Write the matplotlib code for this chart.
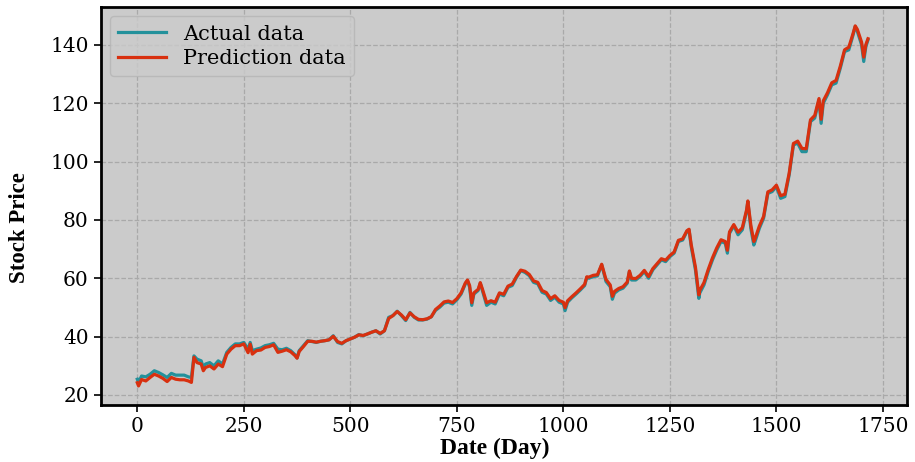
import numpy as np
import matplotlib
matplotlib.use("Agg")
import matplotlib.pyplot as plt

days = [0, 3, 10, 20, 30, 40, 50, 60, 70, 80, 90, 100, 110, 120, 127,
        133, 140, 150, 155, 160, 170, 180, 190, 200, 210, 220, 230, 240, 250, 260,
        265, 270, 280, 290, 300, 310, 320, 330, 340, 350, 360, 370, 375, 380, 390,
        400, 410, 420, 430, 440, 450, 460, 470, 480, 490, 500, 510, 520, 530, 540,
        550, 560, 570, 580, 590, 600, 610, 620, 630, 640, 650, 660, 670, 680, 690,
        700, 710, 720, 730, 740, 750, 760, 770, 775, 780, 785, 790, 800, 805, 810,
        820, 830, 840, 850, 860, 870, 880, 890, 900, 910, 920, 930, 940, 950, 960,
        970, 980, 990, 1000, 1004, 1010, 1020, 1030, 1040, 1050, 1055, 1060, 1070, 1080, 1090,
        1100, 1110, 1115, 1120, 1130, 1140, 1150, 1155, 1160, 1170, 1180, 1190, 1200, 1210, 1220,
        1230, 1240, 1250, 1260, 1270, 1280, 1290, 1295, 1300, 1310, 1318, 1320, 1330, 1340, 1350,
        1360, 1370, 1380, 1385, 1390, 1400, 1410, 1420, 1430, 1433, 1440, 1447, 1450, 1460, 1470,
        1480, 1490, 1500, 1510, 1520, 1530, 1540, 1550, 1560, 1570, 1580, 1590, 1600, 1605, 1610,
        1620, 1630, 1640, 1650, 1660, 1670, 1680, 1685, 1690, 1700, 1705, 1710, 1715]

actual = [25.4, 24.3, 26.5, 26.2, 27.1, 28.3, 27.7, 26.9, 26.0, 27.4, 26.8, 26.8, 26.8, 26.2, 26.0,
          33.4, 32.3, 31.7, 29.4, 30.6, 31.1, 30.0, 31.7, 30.6, 34.6, 36.3, 37.5, 37.5, 38.0, 35.7,
          38.0, 35.2, 35.7, 36.1, 36.9, 37.2, 37.7, 35.7, 35.5, 36.0, 35.2, 33.8, 32.7, 35.2, 36.9,
          38.6, 38.3, 38.0, 38.4, 38.6, 38.9, 40.3, 38.0, 37.5, 38.6, 39.2, 39.8, 40.7, 40.3, 40.9,
          41.5, 42.0, 40.9, 42.0, 46.6, 47.2, 48.7, 47.2, 45.5, 48.3, 46.6, 45.7, 45.7, 46.0, 46.8,
          49.0, 50.1, 51.5, 51.8, 51.2, 52.6, 54.6, 58.1, 59.2, 56.9, 50.7, 54.6, 55.8, 58.3, 55.8,
          50.7, 51.8, 51.2, 54.6, 54.0, 56.9, 57.5, 60.3, 62.6, 62.0, 60.9, 58.6, 58.1, 55.2, 54.6,
          52.4, 53.5, 51.8, 51.2, 48.9, 51.8, 53.3, 54.6, 56.0, 57.5, 60.3, 60.0, 60.6, 60.8, 64.6,
          58.9, 57.1, 52.8, 54.9, 56.0, 56.6, 58.3, 62.3, 59.4, 59.4, 60.6, 62.3, 60.0, 62.9, 64.6,
          66.3, 65.7, 67.4, 68.6, 72.6, 73.1, 76.0, 76.6, 70.9, 62.9, 53.1, 54.9, 57.7, 62.3, 66.3,
          69.7, 72.6, 72.0, 68.6, 75.4, 78.0, 74.9, 76.6, 82.9, 86.3, 77.1, 71.4, 72.6, 77.1, 80.6,
          89.1, 89.7, 91.4, 87.4, 88.0, 95.4, 105.7, 106.3, 103.4, 103.4, 113.7, 114.9, 121.1, 113.1, 120.0,
          122.9, 126.3, 126.9, 132.0, 137.7, 138.3, 143.4, 146.3, 144.6, 140.0, 134.3, 139.4, 141.7]

prediction = [24.2, 23.1, 25.3, 24.8, 26.0, 27.1, 26.5, 25.7, 24.6, 26.0, 25.4, 25.2, 25.2, 24.8, 24.3,
              32.9, 31.1, 30.6, 28.3, 29.4, 30.0, 28.9, 30.6, 29.7, 34.0, 35.7, 36.9, 36.9, 37.5, 34.5,
              37.4, 34.0, 35.2, 35.4, 36.3, 36.6, 37.2, 34.6, 35.0, 35.5, 34.8, 33.5, 32.6, 34.9, 36.6,
              38.4, 38.4, 38.1, 38.4, 38.6, 38.9, 40.1, 38.3, 37.7, 38.6, 39.2, 39.8, 40.6, 40.4, 40.9,
              41.5, 42.0, 41.1, 42.0, 46.2, 47.2, 48.6, 47.4, 45.8, 48.1, 46.8, 45.9, 45.8, 46.1, 46.8,
              49.3, 50.5, 51.9, 52.2, 51.7, 53.0, 55.0, 58.4, 59.4, 57.5, 51.6, 55.0, 56.2, 58.5, 56.3,
              51.6, 52.3, 51.8, 55.0, 54.5, 57.3, 58.0, 60.6, 62.8, 62.4, 61.3, 59.1, 58.6, 55.8, 55.1,
              53.0, 54.0, 52.4, 51.8, 49.9, 52.3, 53.7, 55.0, 56.4, 57.9, 60.5, 60.4, 61.0, 61.2, 64.8,
              59.6, 57.7, 53.8, 55.5, 56.5, 57.1, 58.7, 62.5, 60.0, 59.9, 61.0, 62.7, 60.6, 63.3, 65.0,
              66.7, 66.2, 67.8, 69.0, 73.0, 73.5, 76.3, 76.8, 71.6, 63.8, 54.3, 55.8, 58.5, 63.0, 67.0,
              70.4, 73.2, 72.6, 69.6, 75.9, 78.4, 75.8, 77.3, 83.4, 86.5, 78.2, 72.6, 73.6, 77.9, 81.2,
              89.6, 90.3, 91.9, 88.3, 88.8, 96.0, 106.2, 107.0, 104.5, 104.4, 114.3, 115.8, 121.6, 114.5, 120.8,
              123.6, 127.0, 127.8, 132.7, 138.3, 139.2, 143.9, 146.5, 145.3, 140.9, 135.8, 140.1, 142.1]

x_ticks = [0, 250, 500, 750, 1000, 1250, 1500, 1750]
y_ticks = [20, 40, 60, 80, 100, 120, 140]

plt.rcParams['font.family'] = ['DejaVu Serif']

fig = plt.figure(figsize=(9.15, 4.62), dpi=100)
ax = fig.add_axes([0.110, 0.123, 0.881, 0.862])
ax.set_facecolor('#cbcbcb')

ax.plot(days, actual, color='#23919b', lw=2.3, label='Actual data')
ax.plot(days, prediction, color='#d8300f', lw=2.3, label='Prediction data')

ax.set_xlim(-86, 1806)
ax.set_ylim(16.5, 153)
ax.set_xticks(x_ticks)
ax.set_yticks(y_ticks)
ax.tick_params(labelsize=14.5, length=5, width=1.2)
ax.grid(True, linestyle='--', color='#a9a9a9', linewidth=0.9)
ax.set_axisbelow(True)
for s in ax.spines.values():
    s.set_linewidth(2.0)
    s.set_color('black')

ax.set_xlabel('Date (Day)', fontsize=17, fontweight='bold', family='Liberation Serif')
ax.set_ylabel('Stock Price', fontsize=16.5, fontweight='bold', family='Liberation Serif')
ax.xaxis.set_label_coords(0.489, -0.082)
ax.yaxis.set_label_coords(-0.088, 0.445)

leg = ax.legend(loc='upper left', fontsize=15, frameon=True, handlelength=2.3,
                borderaxespad=0.45, labelspacing=0.25, borderpad=0.4)
leg.get_frame().set_facecolor('#cbcbcb')
leg.get_frame().set_edgecolor('#b5b5b5')

fig.savefig('out.png', dpi=100)
